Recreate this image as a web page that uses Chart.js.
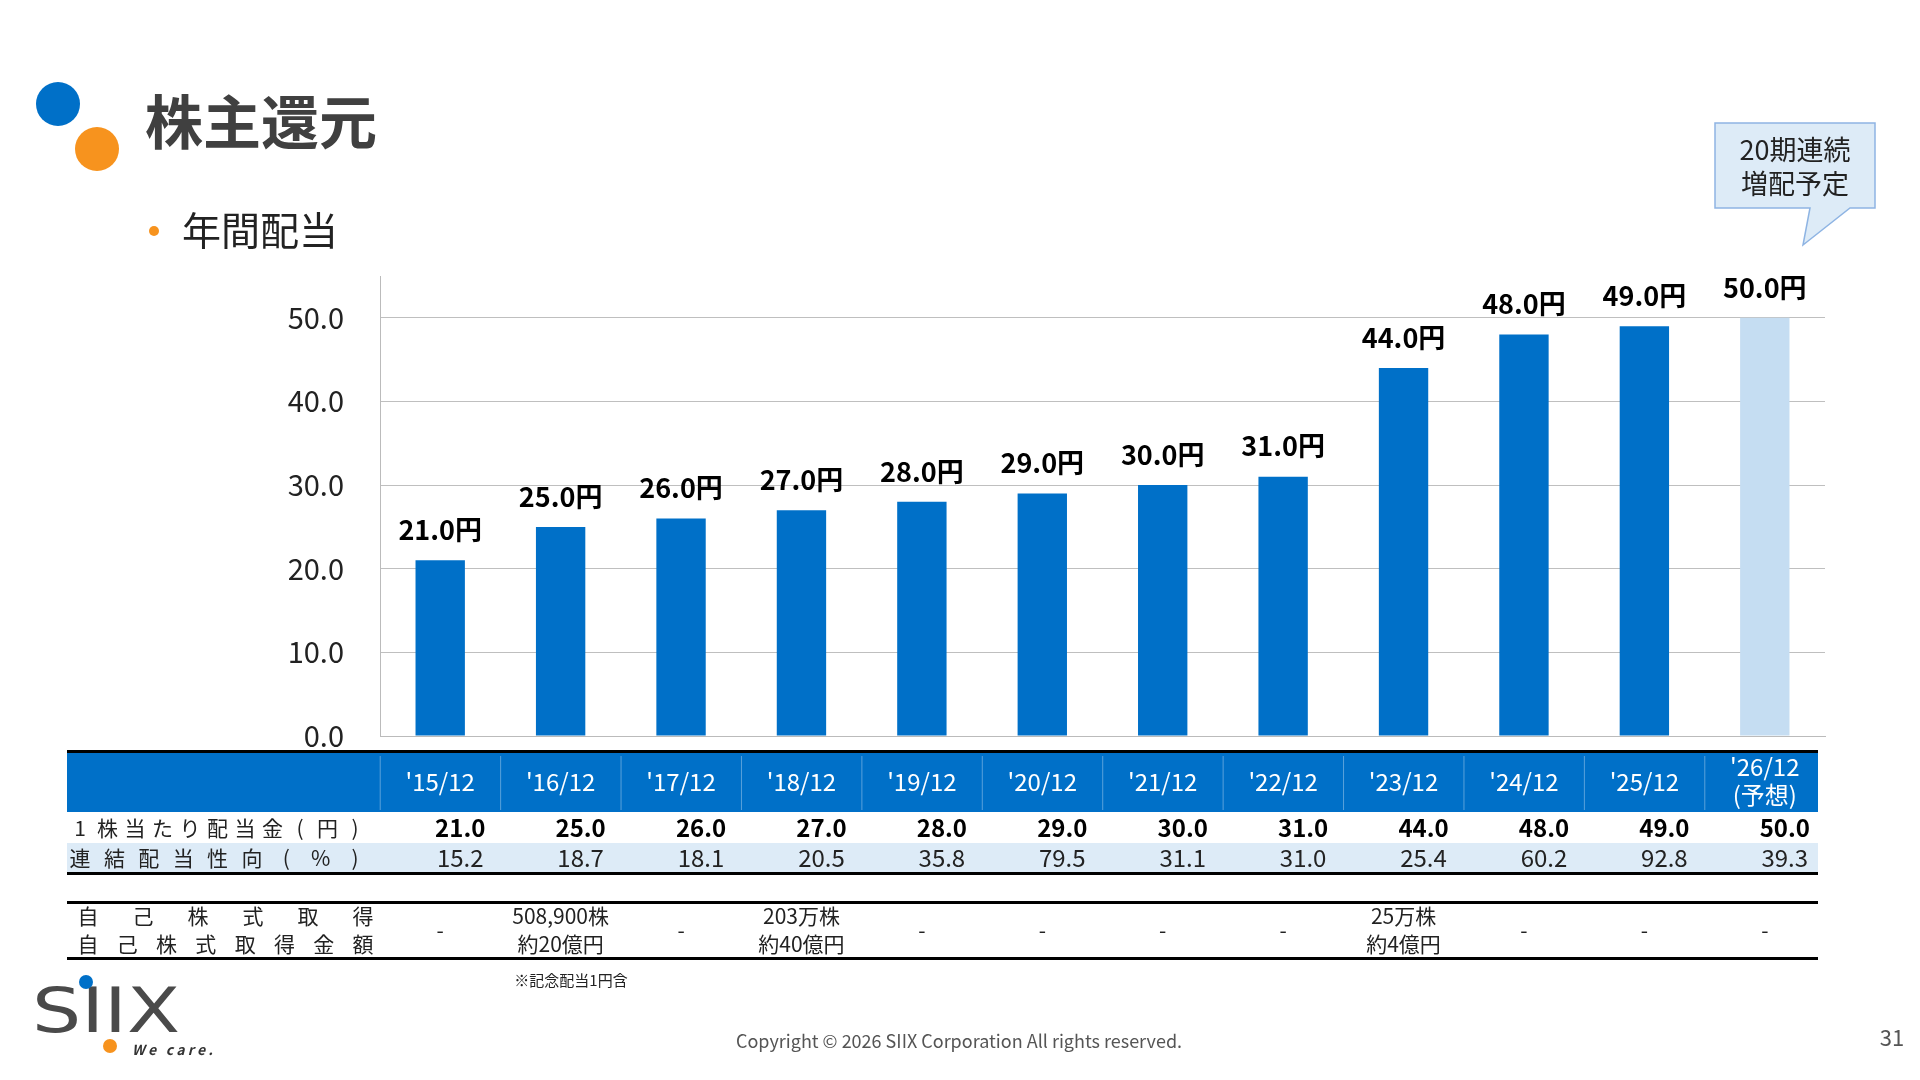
<!DOCTYPE html>
<html><head><meta charset="utf-8">
<script src="https://cdn.jsdelivr.net/npm/chart.js@4/dist/chart.umd.min.js"></script>
<style>html,body{margin:0;padding:0;background:#fff}#wrap{width:1920px;height:1080px}</style>
</head><body><div id="wrap"><canvas id="c" width="1920" height="1080"></canvas></div>
<script>
const FONT = '"Noto Sans CJK JP","Noto Sans",sans-serif';
const categories = ["'15/12","'16/12","'17/12","'18/12","'19/12","'20/12","'21/12","'22/12","'23/12","'24/12","'25/12","'26/12"];
const dividends = [21.0, 25.0, 26.0, 27.0, 28.0, 29.0, 30.0, 31.0, 44.0, 48.0, 49.0, 50.0];
const payoutRatio = ['15.2','18.7','18.1','20.5','35.8','79.5','31.1','31.0','25.4','60.2','92.8','39.3'];
const buybackShares = ['-','508,900株','-','203万株','-','-','-','-','25万株','-','-','-'];
const buybackAmount = ['', '約20億円', '', '約40億円', '', '', '', '', '約4億円', '', '', ''];
const yTicks = [0, 10, 20, 30, 40, 50];
const BLUE = '#0070C8', LIGHT = '#C5DDF2', PALE = '#DDEBF7';

const decor = {
  id: 'decor',
  afterDraw(chart) {
    const c = chart.ctx, x = chart.scales.x, y = chart.scales.y;
    const L = 67, R = 1818;
    c.save();
    // bar labels
    c.fillStyle = '#000'; c.font = 'bold 27px ' + FONT; c.textAlign = 'center'; c.textBaseline = 'bottom';
    dividends.forEach((v, i) => c.fillText(v.toFixed(1) + '円', x.getPixelForValue(i), y.getPixelForValue(v) - 17));
    // header
    c.textBaseline = 'middle';
    c.fillStyle = '#000'; c.fillRect(L, 750, R - L, 3);
    c.fillStyle = BLUE; c.fillRect(L, 753, R - L, 59);
    c.strokeStyle = 'rgba(255,255,255,0.35)'; c.lineWidth = 1;
    c.font = '24px ' + FONT; c.fillStyle = '#fff';
    categories.forEach((t, i) => {
      const cx = x.getPixelForValue(i);
      if (i === 11) { c.fillText(t, cx, 767); c.fillText('(予想)', cx, 795); }
      else c.fillText(t, cx, 782);
      const bx = cx - 60; c.beginPath(); c.moveTo(bx, 756); c.lineTo(bx, 810); c.stroke();
    });
    // rows
    c.fillStyle = PALE; c.fillRect(L, 843, R - L, 29);
    c.fillStyle = '#000'; c.fillRect(L, 872, R - L, 3);
    c.font = '21px ' + FONT; c.fillStyle = '#222';
    const spaced = (s, x0, y0, w) => { const n = s.length; for (let k = 0; k < n; k++) c.fillText(s[k], x0 + k * w / (n - 1), y0); };
    c.textAlign = 'center';
    spaced('1株当たり配当金(円)', 80, 828, 275);
    spaced('連結配当性向(%)', 80, 858, 275);
    c.font = 'bold 24px ' + FONT; c.fillStyle = '#000';
    dividends.forEach((v, i) => c.fillText(v.toFixed(1), x.getPixelForValue(i) + 20, 828));
    c.font = '24px ' + FONT; c.fillStyle = '#222';
    payoutRatio.forEach((v, i) => c.fillText(v, x.getPixelForValue(i) + 20, 858));
    // buyback table
    c.fillStyle = '#000'; c.fillRect(L, 901, R - L, 3); c.fillRect(L, 957, R - L, 3);
    c.font = '21px ' + FONT; c.fillStyle = '#222';
    spaced('自己株式取得', 88, 916, 275);
    spaced('自己株式取得金額', 88, 944, 275);
    buybackShares.forEach((v, i) => {
      const cx = x.getPixelForValue(i);
      if (v === '-') c.fillText('-', cx, 930);
      else { c.fillText(v, cx, 916); c.fillText(buybackAmount[i], cx, 944); }
    });
    c.font = '15px ' + FONT; c.fillText('※記念配当1円含', 571, 980);
    // title
    c.fillStyle = BLUE; c.beginPath(); c.arc(58, 104, 22, 0, 7); c.fill();
    c.fillStyle = '#F7931E'; c.beginPath(); c.arc(97, 149, 22, 0, 7); c.fill();
    c.textAlign = 'left'; c.fillStyle = '#404040'; c.font = 'bold 58px ' + FONT; c.fillText('株主還元', 145, 122);
    c.fillStyle = '#F7931E'; c.beginPath(); c.arc(154, 231, 5, 0, 7); c.fill();
    c.fillStyle = '#222'; c.font = '39px ' + FONT; c.fillText('年間配当', 182, 230);
    // callout
    c.fillStyle = PALE; c.strokeStyle = '#8EB4E3'; c.lineWidth = 1.5;
    c.beginPath(); c.moveTo(1715, 123); c.lineTo(1875, 123); c.lineTo(1875, 208); c.lineTo(1850, 208);
    c.lineTo(1803, 245); c.lineTo(1810, 208); c.lineTo(1715, 208); c.closePath(); c.fill(); c.stroke();
    c.fillStyle = '#222'; c.font = '27px ' + FONT; c.textAlign = 'center';
    c.fillText('20期連続', 1795, 150); c.fillText('増配予定', 1795, 184);
    // footer
    c.fillStyle = '#555'; c.font = '18px ' + FONT; c.fillText('Copyright © 2026 SIIX Corporation All rights reserved.', 959, 1041);
    c.font = '22px ' + FONT; c.fillText('31', 1892, 1038);
    c.fillStyle = '#4a4a4a'; c.font = '62px "DejaVu Sans",sans-serif'; c.textAlign = 'left';
    c.save(); c.translate(32, 1016); c.scale(1.25, 1); c.fillText('SIIX', 0, 0); c.restore();
    c.fillStyle = BLUE; c.beginPath(); c.arc(86, 982, 7, 0, 7); c.fill();
    c.fillStyle = '#F7931E'; c.beginPath(); c.arc(110, 1046, 7, 0, 7); c.fill();
    c.fillStyle = '#333'; c.font = 'italic bold 14px ' + FONT; c.fillText('W e   c a r e .', 132, 1050);
    c.restore();
  }
};

new Chart(document.getElementById('c'), {
  type: 'bar',
  data: { labels: categories, datasets: [{ data: dividends,
    backgroundColor: dividends.map((v, i) => i === dividends.length - 1 ? LIGHT : BLUE),
    barPercentage: 0.41, categoryPercentage: 1 }] },
  options: {
    responsive: false, animation: false, devicePixelRatio: 1,
    layout: { padding: { left: 230, right: 95, top: 276, bottom: 336 } },
    plugins: { legend: { display: false }, tooltip: { enabled: false } },
    scales: {
      x: { ticks: { display: false }, grid: { display: false }, border: { color: '#bbb' } },
      y: { min: 0, max: 55, afterFit: s => { s.width = 150; },
        afterBuildTicks: s => { s.ticks = yTicks.map(v => ({ value: v })); },
        ticks: { color: '#222', font: { size: 29, family: FONT }, callback: v => v.toFixed(1), padding: 36 },
        grid: { color: '#bfbfbf', drawTicks: false }, border: { color: '#bbb' } }
    }
  },
  plugins: [decor]
});
</script></body></html>
